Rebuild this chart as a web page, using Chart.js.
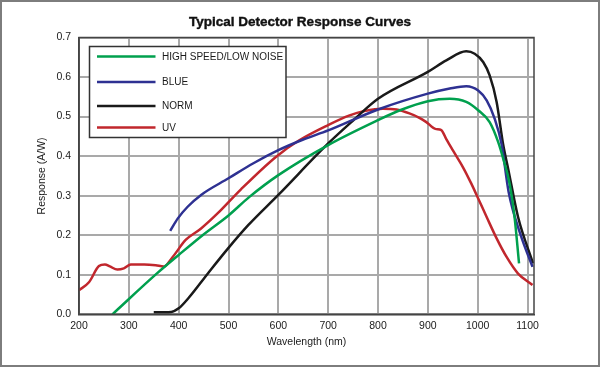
<!DOCTYPE html>
<html lang="en">
<head>
<meta charset="UTF-8">
<title>Typical Detector Response Curves</title>
<script src="https://cdn.jsdelivr.net/npm/chart.js"></script>
<style>
  html, body { margin: 0; padding: 0; background: #fff; }
  #frame {
    width: 600px;
    height: 367px;
    box-sizing: border-box;
    border: 2px solid #7d7d7d;
    background: #fff;
  }
  #frame canvas { display: block; }
</style>
</head>
<body>
<div id="frame"><canvas id="chart" width="596" height="363"></canvas></div>

<script>
// axis ticks
const xTicks = [200, 300, 400, 500, 600, 700, 800, 900, 1000, 1100];
const yTicks = [0, 0.1, 0.2, 0.3, 0.4, 0.5, 0.6, 0.7];

const chartTitle = 'Typical Detector Response Curves';
// series names, in legend order
const seriesNames = ['HIGH SPEED/LOW NOISE', 'BLUE', 'NORM', 'UV'];

// HIGH SPEED/LOW NOISE (green)
const hsNm   = [267, 357, 400, 448, 500, 542, 600, 700, 800, 844, 900, 944, 977, 1001, 1024, 1041, 1052, 1064, 1074, 1083];
const hsResp = [0, 0.104, 0.15, 0.2, 0.25, 0.297, 0.352, 0.428, 0.491, 0.516, 0.539, 0.545, 0.537, 0.516, 0.486, 0.436, 0.39, 0.331, 0.246, 0.129];

// BLUE
const blueNm   = [383, 398, 418, 445, 500, 550, 600, 650, 700, 800, 900, 944, 977, 1001, 1018, 1034, 1048, 1062, 1085, 1110];
const blueResp = [0.211, 0.242, 0.272, 0.302, 0.344, 0.382, 0.415, 0.442, 0.465, 0.518, 0.558, 0.571, 0.577, 0.566, 0.541, 0.495, 0.43, 0.31, 0.205, 0.12];

// NORM (black)
const normNm   = [350, 385, 400, 419, 459, 500, 540, 600, 700, 750, 800, 900, 937, 977, 994, 1011, 1024, 1038, 1051, 1061, 1081, 1111];
const normResp = [0.005, 0.006, 0.015, 0.04, 0.104, 0.168, 0.226, 0.302, 0.432, 0.49, 0.545, 0.613, 0.642, 0.665, 0.659, 0.638, 0.604, 0.537, 0.43, 0.369, 0.246, 0.129];

// UV (red)
const uvNm   = [200, 220, 240, 252, 262, 277, 290, 304, 331, 354, 370, 388, 414, 445, 478, 525, 595, 642, 699, 743, 773, 810, 837, 863, 883, 897, 915, 927, 937, 950, 970, 987, 1001, 1018, 1038, 1058, 1081, 1110];
const uvResp = [0.061, 0.081, 0.122, 0.126, 0.121, 0.113, 0.116, 0.126, 0.126, 0.124, 0.121, 0.145, 0.188, 0.217, 0.255, 0.316, 0.398, 0.44, 0.478, 0.503, 0.514, 0.52, 0.518, 0.508, 0.497, 0.486, 0.469, 0.466, 0.443, 0.415, 0.373, 0.331, 0.293, 0.246, 0.192, 0.145, 0.103, 0.074];

const colors = ['#00a04e', '#2e3192', '#1a1a1a', '#c1272d'];

function pts(xs, ys) {
  return xs.map((x, i) => ({ x: x, y: ys[i] }));
}

const FONT = 'Liberation Sans, Arial, sans-serif';

// title centred on the whole picture, legend box inside the plot, top/right plot frame
const decor = {
  id: 'decor',
  afterDraw(chart) {
    const ctx = chart.ctx;
    const a = chart.chartArea;
    ctx.save();

    ctx.fillStyle = '#111';
    ctx.strokeStyle = '#111';
    ctx.lineWidth = 0.4;
    ctx.font = 'bold 13.5px ' + FONT;
    ctx.textAlign = 'center';
    ctx.textBaseline = 'middle';
    ctx.fillText(chartTitle, chart.width / 2, 20.5);
    ctx.strokeText(chartTitle, chart.width / 2, 20.5);

    ctx.strokeStyle = '#444';
    ctx.lineWidth = 1.5;
    ctx.strokeRect(a.left, a.top, a.right - a.left, a.bottom - a.top);

    const bx = a.left + 10.5, by = a.top + 9, bw = 196.5, bh = 91;
    ctx.fillStyle = '#fff';
    ctx.fillRect(bx, by, bw, bh);
    ctx.strokeStyle = '#333';
    ctx.lineWidth = 1.5;
    ctx.strokeRect(bx, by, bw, bh);

    const rows = [10, 35.5, 59.5, 81];
    ctx.font = '10px ' + FONT;
    ctx.textBaseline = 'middle';
    ctx.textAlign = 'left';
    chart.data.datasets.forEach((ds, i) => {
      const y = by + rows[i];
      ctx.strokeStyle = ds.borderColor;
      ctx.lineWidth = 2.5;
      ctx.beginPath();
      ctx.moveTo(bx + 7.5, y);
      ctx.lineTo(bx + 66, y);
      ctx.stroke();
      ctx.fillStyle = '#1a1a1a';
      ctx.fillText(ds.label, bx + 72.5, y + 0.5);
    });
    ctx.restore();
  }
};

new Chart(document.getElementById('chart'), {
  type: 'line',
  data: {
    datasets: [
      { label: seriesNames[0], data: pts(hsNm, hsResp) },
      { label: seriesNames[1], data: pts(blueNm, blueResp) },
      { label: seriesNames[2], data: pts(normNm, normResp) },
      { label: seriesNames[3], data: pts(uvNm, uvResp) }
    ].map((d, i) => Object.assign(d, {
      borderColor: colors[i],
      backgroundColor: colors[i],
      borderWidth: 2.5,
      pointRadius: 0,
      fill: false,
      cubicInterpolationMode: 'monotone'
    }))
  },
  options: {
    responsive: false,
    animation: false,
    layout: { padding: { left: 0, right: 64, top: 35.5, bottom: 0 } },
    plugins: {
      legend: { display: false },
      tooltip: { enabled: false },
      title: { display: false }
    },
    scales: {
      x: {
        type: 'linear',
        min: 200,
        max: 1113,
        afterBuildTicks: s => { s.ticks = xTicks.map(v => ({ value: v })); },
        afterFit: s => { s.height = 50.7; },
        grid: { color: '#a9a9a9', lineWidth: 2, drawTicks: false },
        border: { display: true, color: '#444', width: 1.5 },
        ticks: {
          color: '#1a1a1a',
          padding: 6,
          maxRotation: 0,
          font: { family: FONT, size: 10.5 },
          callback: v => String(v)
        },
        title: {
          display: true,
          text: 'Wavelength (nm)',
          color: '#1a1a1a',
          font: { family: FONT, size: 10.5 },
          padding: { top: 0, bottom: 17 }
        }
      },
      y: {
        min: 0,
        max: 0.7,
        afterBuildTicks: s => { s.ticks = yTicks.map(v => ({ value: v })); },
        afterFit: s => { s.width = 77; },
        grid: { color: '#a9a9a9', lineWidth: 2, drawTicks: false },
        border: { display: true, color: '#444', width: 1.5 },
        ticks: {
          color: '#1a1a1a',
          padding: 8,
          font: { family: FONT, size: 10.5 },
          callback: v => Number(v).toFixed(1)
        },
        title: {
          display: true,
          text: 'Response (A/W)',
          color: '#1a1a1a',
          font: { family: FONT, size: 10.5 },
          padding: { top: 34, bottom: 0 }
        }
      }
    }
  },
  plugins: [decor]
});
</script>
</body>
</html>
